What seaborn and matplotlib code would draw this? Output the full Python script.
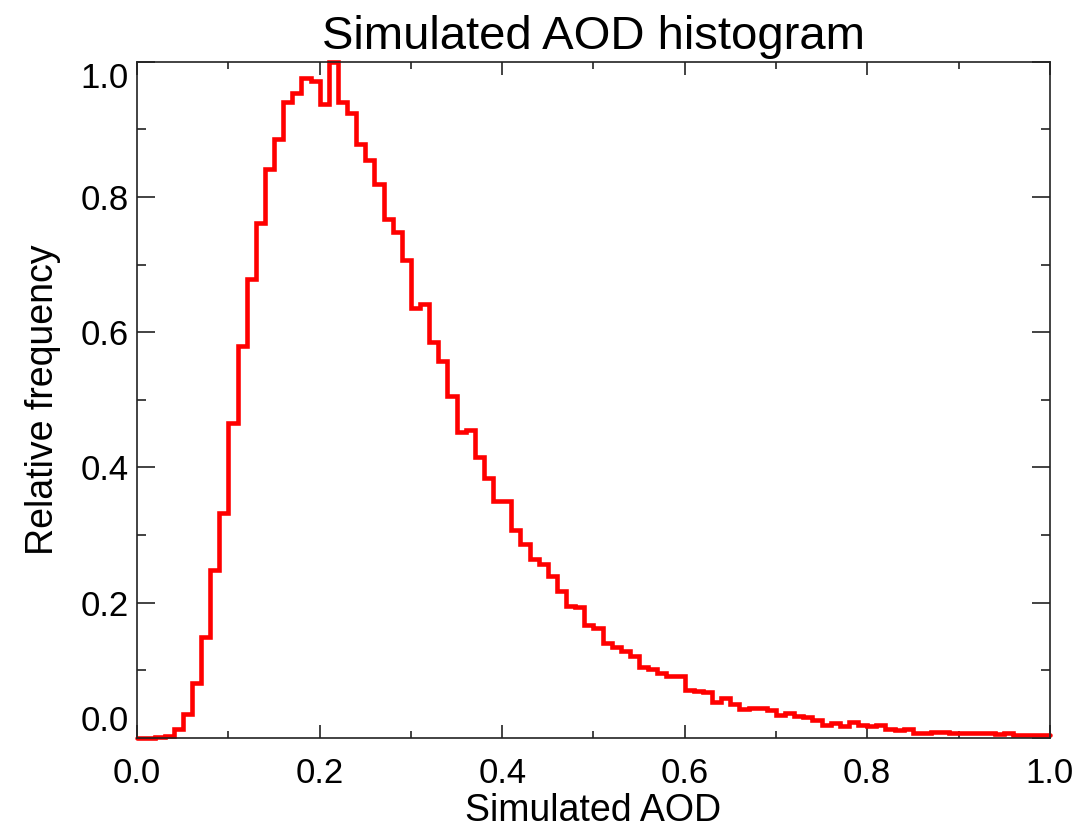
#%% Simulated AOD histogram (relative frequency)

import numpy as np
import pandas as pd
import matplotlib
matplotlib.use('Agg')
import matplotlib.pyplot as plt
from matplotlib.ticker import MultipleLocator, FormatStrFormatter
import seaborn as sns

#%% Data: 100 bins of width 0.01, normalised to the peak

bin_width = 0.01
bin_edges = np.round(np.arange(0, 1.0 + bin_width / 2, bin_width), 2)
bin_centers = bin_edges[:-1] + bin_width / 2

rel_freq = [
    0.000, 0.000, 0.002, 0.003, 0.013, 0.035, 0.081, 0.149, 0.249, 0.332,
    0.466, 0.579, 0.679, 0.762, 0.841, 0.886, 0.941, 0.954, 0.976, 0.971,
    0.937, 1.000, 0.941, 0.924, 0.878, 0.854, 0.819, 0.767, 0.748, 0.707,
    0.636, 0.642, 0.586, 0.557, 0.506, 0.452, 0.456, 0.415, 0.385, 0.351,
    0.351, 0.307, 0.287, 0.265, 0.258, 0.240, 0.218, 0.195, 0.193, 0.167,
    0.162, 0.140, 0.135, 0.129, 0.121, 0.105, 0.102, 0.096, 0.091, 0.091,
    0.071, 0.070, 0.068, 0.054, 0.059, 0.051, 0.043, 0.045, 0.044, 0.041,
    0.034, 0.037, 0.032, 0.031, 0.026, 0.019, 0.022, 0.018, 0.024, 0.019,
    0.018, 0.019, 0.014, 0.012, 0.014, 0.008, 0.008, 0.009, 0.009, 0.008,
    0.008, 0.007, 0.007, 0.007, 0.006, 0.007, 0.004, 0.005, 0.005, 0.004,
]

df = pd.DataFrame({'aod': bin_centers, 'freq': rel_freq})

#%% Style

sns.set_style('ticks')
plt.rcParams['font.family'] = ['Liberation Sans', 'DejaVu Sans']
plt.rcParams['text.color'] = 'black'
plt.rcParams['axes.labelcolor'] = 'black'
plt.rcParams['xtick.color'] = 'black'
plt.rcParams['ytick.color'] = 'black'

fig = plt.figure(figsize=(10.8, 8.33), dpi=100, facecolor='white')
ax = fig.add_axes([0.127, 0.114, 0.845, 0.812])

sns.histplot(data=df, x='aod', weights='freq', bins=list(bin_edges),
             element='step', fill=False, color='red', linewidth=3.3, ax=ax)

for line in ax.lines:
    line.set_clip_on(False)
    line.set_solid_joinstyle('miter')

ax.set_xlim(0, 1)
ax.set_ylim(0, 1)

ax.xaxis.set_major_locator(MultipleLocator(0.2))
ax.xaxis.set_minor_locator(MultipleLocator(0.1))
ax.yaxis.set_major_locator(MultipleLocator(0.2))
ax.yaxis.set_minor_locator(MultipleLocator(0.1))
ax.xaxis.set_major_formatter(FormatStrFormatter('%.1f'))
ax.yaxis.set_major_formatter(FormatStrFormatter('%.1f'))

ax.tick_params(axis='both', which='both', direction='in', top=True, right=True,
               color='#222222', width=1.2, labelsize=25, labelcolor='black')
ax.tick_params(axis='y', which='major', length=13, pad=6)
ax.tick_params(axis='y', which='minor', length=6.5)
ax.tick_params(axis='x', which='major', length=9.5, pad=14)
ax.tick_params(axis='x', which='minor', length=5)

for side in ax.spines.values():
    side.set_visible(True)
    side.set_linewidth(1.2)
    side.set_color('#222222')

ax.set_title('Simulated AOD histogram', fontsize=34, pad=9)
ax.set_xlabel('Simulated AOD', fontsize=27, labelpad=2)
ax.set_ylabel('Relative frequency', fontsize=27, labelpad=14)

# IDL-style: end labels on the y axis sit inside the axis range
fig.canvas.draw()
for tick in ax.yaxis.get_major_ticks():
    loc = tick.get_loc()
    if abs(loc) < 1e-9:
        tick.label1.set_verticalalignment('bottom')
    elif abs(loc - 1) < 1e-9:
        tick.label1.set_verticalalignment('top')

plt.savefig('out.png', dpi=100, facecolor='white')
